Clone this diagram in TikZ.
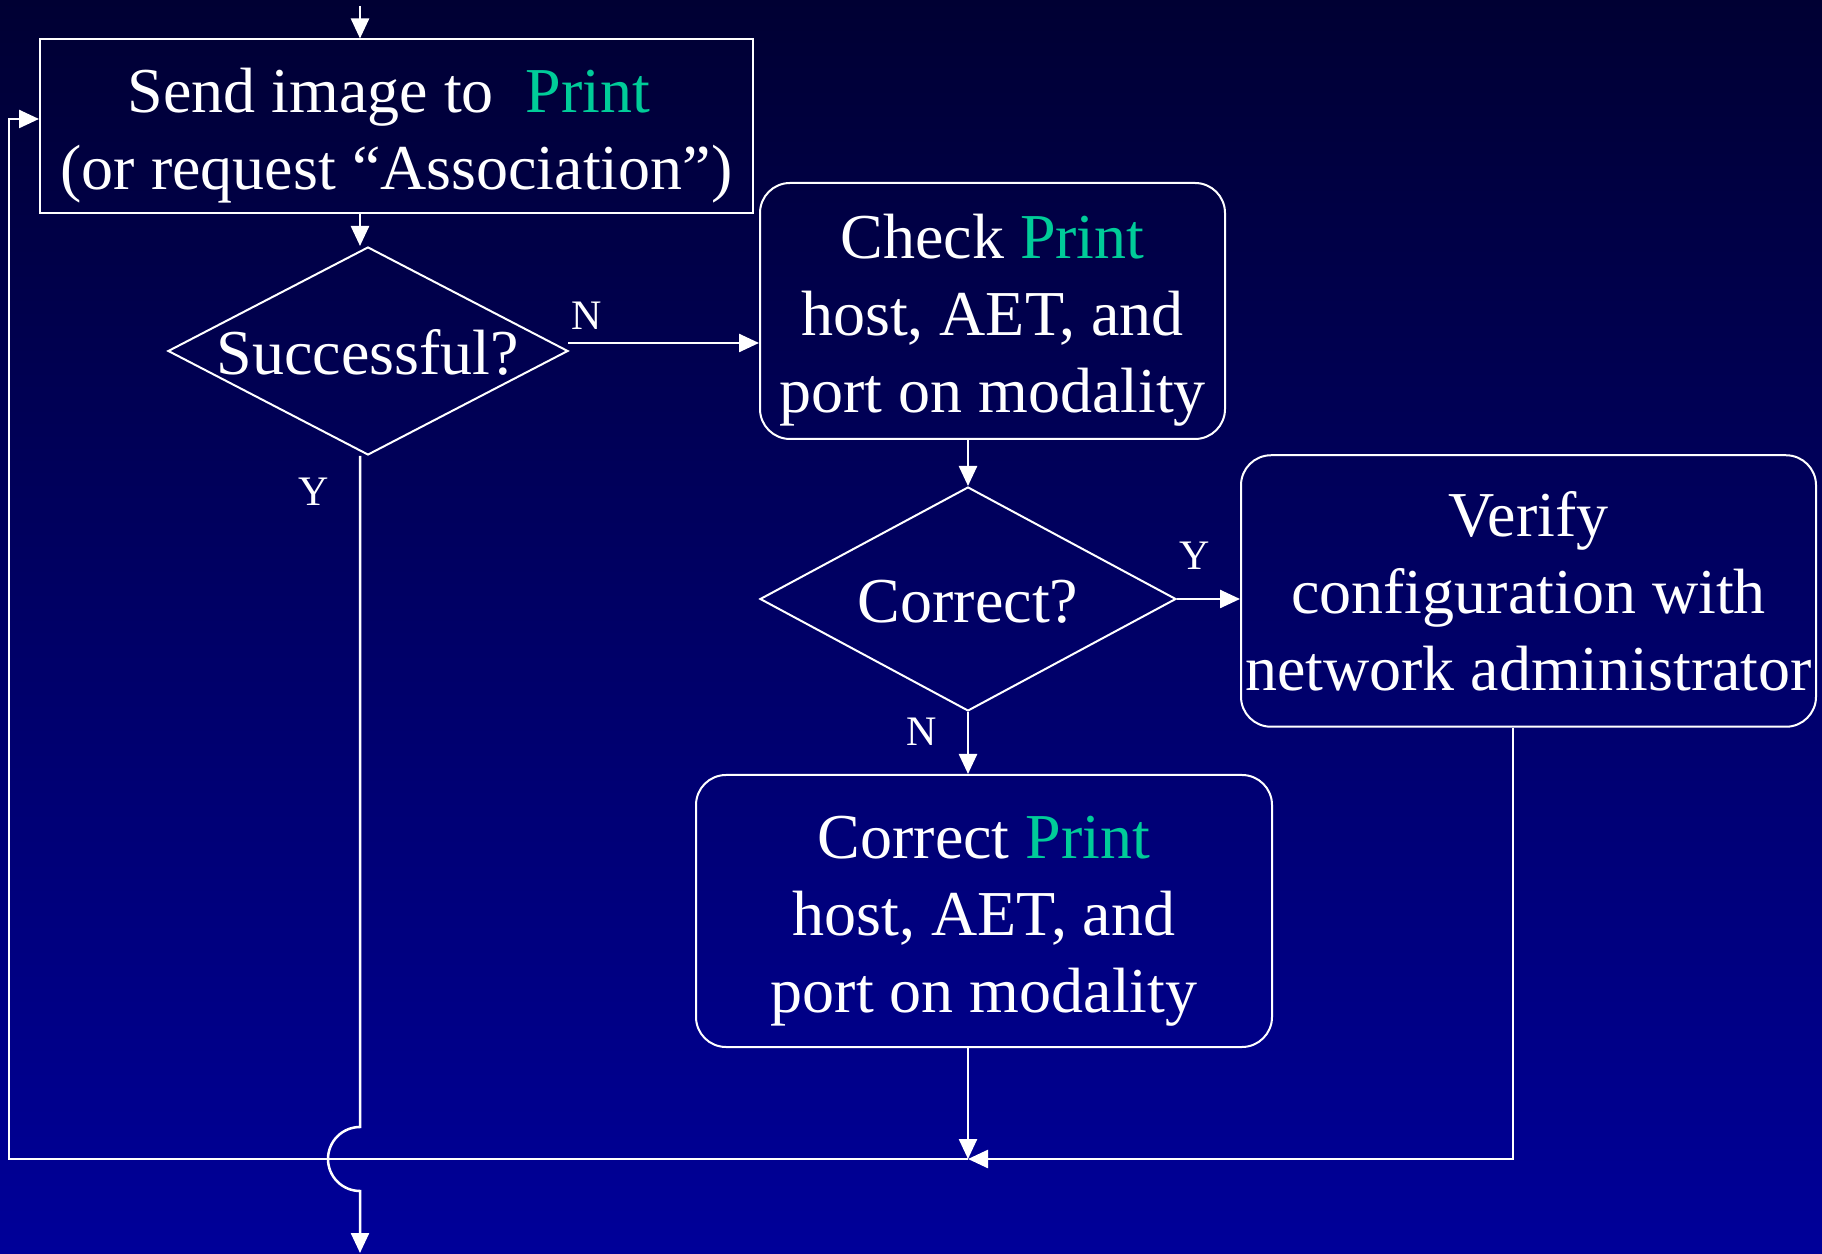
\documentclass[tikz,border=0pt]{standalone}
\usepackage{fontspec}
\setmainfont{Liberation Serif}
\usetikzlibrary{arrows.meta,shapes.geometric}
\definecolor{printgreen}{RGB}{0,204,153}
\definecolor{navytop}{RGB}{0,0,51}
\definecolor{navybot}{RGB}{0,0,153}
\newcommand{\tallline}{\rule{0pt}{62pt}}

\begin{document}
\begin{tikzpicture}[x=1pt,y=1pt,
    boxtext/.style={text=white,font=\fontsize{64}{77}\selectfont,align=center,inner sep=0pt},
    plainbox/.style={boxtext,draw=white,line width=2pt,rectangle},
    roundbox/.style={plainbox,rounded corners=30pt},
    query/.style={boxtext,draw=white,line width=2pt,diamond,text height=48pt,text depth=0pt},
    answer/.style={text=white,font=\fontsize{42}{48}\selectfont,anchor=base,inner sep=0pt},
    flow/.style={draw=white,line width=2.5pt,-{Triangle[length=20pt,width=18pt]}}]
  % background
  \useasboundingbox (0,0) rectangle (1822,1253);
  \shade[top color=navytop,bottom color=navybot] (0,0) rectangle (1822,1253);

  % steps and questions
  \node[plainbox,minimum width=713pt,minimum height=174pt] (send) at (396.5,1126.5)
    {\tallline Send image to \ {\color{printgreen}Print}\hspace*{15pt}\\(or request ``Association'')};
  \node[query,shape aspect=1.92,minimum width=400pt,minimum height=208pt] (succ) at (368,902) {Successful?};
  \node[roundbox,minimum width=465pt,minimum height=256pt] (check) at (992.5,942)
    {\tallline Check {\color{printgreen}Print}\\host, AET, and\\port on modality};
  \node[query,shape aspect=1.86,minimum width=416pt,minimum height=224pt] (cdia) at (968,654) {Correct?};
  \node[roundbox,minimum width=575pt,minimum height=271.5pt] (verify) at (1528.5,662)
    {Verify\\configuration with\\network administrator};
  \node[roundbox,minimum width=576pt,minimum height=272pt] (fix) at (984,342)
    {\tallline Correct {\color{printgreen}Print}\\host, AET, and\\port on modality};

  % answers
  \node[answer] (succN) at (587,923) {N};
  \node[answer] (succY) at (314,747.5) {Y};
  \node[answer] (cdiaY) at (1195,683) {Y};
  \node[answer] (cdiaN) at (921.5,507) {N};

  % helper points
  \coordinate (spine) at (360,0);
  \coordinate (entry) at (360,1247);
  \coordinate (nrow) at (568,910);
  \coordinate (merge) at (968,94);
  \coordinate (vdrop) at (1513,0);
  \coordinate (loopbot) at (9,94);
  \coordinate (looptop) at (9,1134);
  \coordinate (jumptop) at (360,126);
  \coordinate (exit) at (360,0);

  % connectors
  \draw[flow] (entry) -- (entry |- send.north);
  \draw[flow] (send.south -| spine) -- (succ.north -| spine);
  \draw[flow] (nrow) -- (nrow -| check.west);
  \draw[flow] (check.south -| cdia.north) -- (cdia.north);
  \draw[flow] (cdia.east) -- (verify.west |- cdia.east);
  \draw[flow] (cdia.south) -- (fix.north -| cdia.south);
  \draw[flow] (fix.south -| merge) -- (merge);
  \draw[flow] (verify.south -| vdrop) -- (vdrop |- merge) -- (merge);
  \draw[flow] (merge) -- (loopbot) -- (looptop) -- (looptop -| send.west);
  \draw[flow] (succ.south -| spine) -- (jumptop)
    arc[start angle=90,end angle=270,radius=32] -- (exit);
\end{tikzpicture}
\end{document}
